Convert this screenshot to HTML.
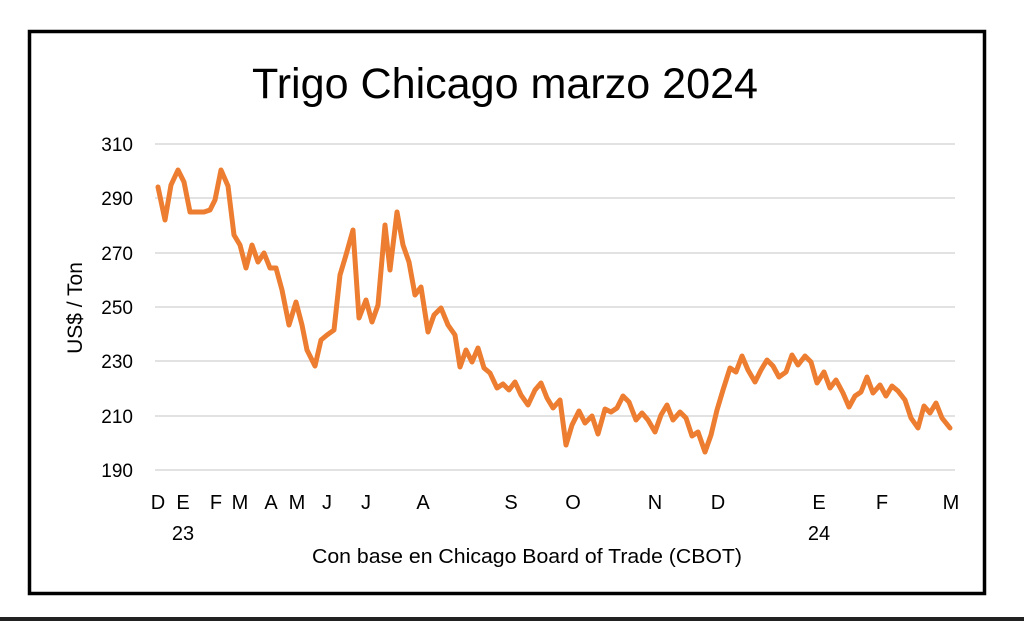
<!DOCTYPE html>
<html><head><meta charset="utf-8"><style>
html,body{margin:0;padding:0;background:#fff;width:1024px;height:621px;overflow:hidden}
svg{display:block}
text{font-family:"Liberation Sans",sans-serif;fill:#000}
</style></head><body>
<svg width="1024" height="621" viewBox="0 0 1024 621">
<rect x="29.5" y="31.5" width="955" height="562" fill="#fff" stroke="#000" stroke-width="3.5"/>
<rect x="0" y="617" width="1024" height="4" fill="#222"/>
<text x="505" y="98" font-size="43" text-anchor="middle" textLength="506" lengthAdjust="spacingAndGlyphs">Trigo Chicago marzo 2024</text>
<g stroke="#d9d9d9" stroke-width="1.5">
<line x1="155" y1="144" x2="955" y2="144"/><line x1="155" y1="198" x2="955" y2="198"/>
<line x1="155" y1="253" x2="955" y2="253"/><line x1="155" y1="307" x2="955" y2="307"/>
<line x1="155" y1="361" x2="955" y2="361"/><line x1="155" y1="416" x2="955" y2="416"/>
<line x1="155" y1="470" x2="955" y2="470"/></g>
<g font-size="19" text-anchor="end">
<text x="133" y="151">310</text><text x="133" y="205">290</text><text x="133" y="260">270</text>
<text x="133" y="314">250</text><text x="133" y="368">230</text><text x="133" y="423">210</text><text x="133" y="477">190</text></g>
<text transform="translate(82,308) rotate(-90)" font-size="21" text-anchor="middle">US$ / Ton</text>
<polyline fill="none" stroke="#ed7d31" stroke-width="5" stroke-linejoin="round" stroke-linecap="round" points="158,187 165,220 171,185 178,170 184,182 190,212 197,212 204,212 210,210 215,200 221,170 228,186 234,235 240,245 246,268 252,245 258,262 264,253 270,268 276,268 282,290 289,325 296,302 302,325 307,350 315,366 321,340 327,335 334,330 340,275 346,255 353,230 359,318 366,300 372,322 378,305 385,225 390,270 397,212 403,245 409,262 415,295 421,287 428,332 434,315 441,308 448,325 455,335 460,367 466,350 472,362 478,348 484,368 490,373 497,388 503,384 509,390 515,382 521,395 528,405 535,390 541,383 547,398 553,408 560,400 566,445 572,425 579,411 585,423 592,416 598,434 605,409 611,412 617,408 623,396 629,402 636,420 642,413 648,420 655,432 661,415 667,405 673,420 680,412 686,418 692,436 698,432 705,452 711,435 717,410 723,390 730,368 736,372 742,356 748,370 755,382 761,370 767,360 773,366 779,377 786,372 792,355 798,365 805,356 811,362 817,383 824,372 830,388 836,380 843,393 849,407 855,396 861,392 867,377 873,393 880,385 886,396 892,386 898,391 905,400 911,418 918,428 924,406 930,413 936,403 942,418 950,428"/>
<g font-size="20" text-anchor="middle">
<text x="158" y="509">D</text><text x="183" y="509">E</text><text x="216" y="509">F</text><text x="240" y="509">M</text>
<text x="271" y="509">A</text><text x="297" y="509">M</text><text x="327" y="509">J</text><text x="366" y="509">J</text>
<text x="423" y="509">A</text><text x="511" y="509">S</text><text x="573" y="509">O</text><text x="655" y="509">N</text>
<text x="718" y="509">D</text><text x="819" y="509">E</text><text x="882" y="509">F</text><text x="951" y="509">M</text>
<text x="183" y="540">23</text><text x="819" y="540">24</text></g>
<text x="527" y="563" font-size="20" text-anchor="middle" textLength="430" lengthAdjust="spacingAndGlyphs">Con base en Chicago Board of Trade (CBOT)</text>
</svg>
</body></html>
